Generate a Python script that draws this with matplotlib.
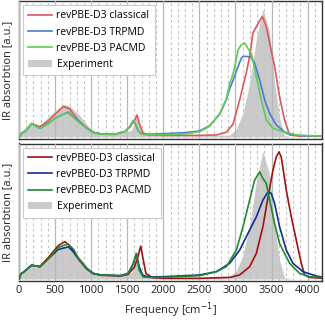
import matplotlib
matplotlib.use("Agg")
import matplotlib.pyplot as plt
from matplotlib.ticker import MultipleLocator

plt.rcParams['font.family'] = ['Open Sans', 'DejaVu Sans']
plt.rcParams['font.size'] = 8

# ---------------- data ----------------
exp_f = [0, 60, 175, 290, 429, 613, 706, 844, 983, 1075, 1352, 1560, 1640, 1698, 1790,
         2000, 2500, 2920, 3013, 3105, 3197, 3290, 3381, 3474, 3543, 3612, 3681, 3800, 4200]
exp_v = [0.0, 0.05, 0.095, 0.085, 0.16, 0.245, 0.23, 0.16, 0.065, 0.03, 0.02, 0.05, 0.17, 0.045, 0.015,
         0.01, 0.01, 0.015, 0.06, 0.18, 0.40, 0.73, 0.955, 0.78, 0.41, 0.14, 0.01, 0.0, 0.0]

# top panel: revPBE-D3
pbe_cl_f = [0, 40, 100, 175, 290, 406, 500, 614, 700, 821, 937, 1029, 1136, 1330, 1467, 1540, 1600,
            1635, 1675, 1720, 1800, 2000, 2500, 2736, 2874, 2966, 3059, 3151, 3197, 3243, 3290, 3373,
            3428, 3474, 3543, 3612, 3681, 3751, 3850, 4200]
pbe_cl_v = [0.0, 0.03, 0.05, 0.10, 0.077, 0.12, 0.17, 0.226, 0.21, 0.125, 0.068, 0.035, 0.022, 0.02,
            0.04, 0.08, 0.12, 0.164, 0.09, 0.03, 0.015, 0.012, 0.012, 0.015, 0.035, 0.095, 0.276, 0.48,
            0.60, 0.774, 0.823, 0.898, 0.823, 0.70, 0.525, 0.30, 0.127, 0.015, 0.008, 0.005]

pbe_tr_f = [0, 40, 100, 175, 290, 406, 500, 614, 683, 821, 937, 1029, 1136, 1330, 1467, 1536, 1582,
            1610, 1652, 1700, 1800, 2000, 2300, 2505, 2644, 2782, 2874, 2920, 2966, 3036, 3082, 3105,
            3160, 3220, 3266, 3336, 3405, 3474, 3566, 3705, 3889, 4200]
pbe_tr_v = [0.0, 0.028, 0.05, 0.10, 0.064, 0.10, 0.14, 0.17, 0.185, 0.12, 0.066, 0.035, 0.022, 0.02,
            0.04, 0.075, 0.12, 0.10, 0.045, 0.022, 0.02, 0.025, 0.032, 0.045, 0.085, 0.17, 0.28, 0.36,
            0.42, 0.524, 0.587, 0.60, 0.60, 0.594, 0.55, 0.425, 0.276, 0.176, 0.09, 0.027, 0.01, 0.005]

pbe_pa_f = [0, 40, 100, 175, 290, 406, 500, 614, 683, 821, 937, 1029, 1136, 1330, 1467, 1536, 1582,
            1615, 1652, 1698, 1800, 2000, 2274, 2505, 2644, 2782, 2874, 2920, 2950, 2990, 3036, 3082,
            3128, 3174, 3220, 3290, 3359, 3428, 3520, 3658, 3843, 4200]
pbe_pa_v = [0.0, 0.028, 0.05, 0.10, 0.064, 0.10, 0.14, 0.17, 0.18, 0.114, 0.064, 0.032, 0.02, 0.02,
            0.04, 0.077, 0.125, 0.10, 0.05, 0.02, 0.015, 0.018, 0.022, 0.04, 0.08, 0.174, 0.28, 0.40,
            0.44, 0.52, 0.65, 0.687, 0.70, 0.66, 0.624, 0.45, 0.276, 0.127, 0.065, 0.04, 0.015, 0.005]

# bottom panel: revPBE0-D3
pbe0_cl_f = [0, 30, 60, 175, 291, 406, 545, 637, 700, 821, 937, 1029, 1136, 1411, 1513, 1600, 1650,
             1688, 1720, 1760, 1850, 2000, 2500, 2920, 3059, 3197, 3290, 3381, 3451, 3520, 3566, 3604,
             3635, 3705, 3774, 3843, 3913, 3958, 4028, 4200]
pbe0_cl_v = [0.0, 0.04, 0.05, 0.10, 0.095, 0.16, 0.25, 0.279, 0.25, 0.15, 0.075, 0.04, 0.028, 0.022,
             0.035, 0.09, 0.17, 0.246, 0.15, 0.04, 0.01, 0.005, 0.005, 0.012, 0.03, 0.092, 0.192, 0.391,
             0.61, 0.813, 0.913, 0.95, 0.913, 0.664, 0.465, 0.291, 0.117, 0.03, 0.012, 0.005]

pbe0_tr_f = [0, 30, 60, 175, 291, 406, 545, 683, 760, 821, 937, 1029, 1136, 1411, 1513, 1580, 1628,
             1665, 1720, 1800, 2000, 2505, 2736, 2920, 3059, 3197, 3290, 3381, 3451, 3497, 3543, 3612,
             3705, 3797, 3935, 4120, 4200]
pbe0_tr_v = [0.0, 0.04, 0.05, 0.104, 0.09, 0.15, 0.22, 0.241, 0.2, 0.155, 0.08, 0.042, 0.03, 0.025,
             0.042, 0.11, 0.19, 0.09, 0.025, 0.015, 0.017, 0.03, 0.055, 0.117, 0.216, 0.366, 0.465, 0.59,
             0.652, 0.64, 0.565, 0.391, 0.216, 0.117, 0.055, 0.022, 0.015]

pbe0_pa_f = [0, 30, 60, 175, 291, 406, 545, 637, 683, 760, 821, 937, 1029, 1136, 1411, 1513, 1580,
             1628, 1665, 1720, 1800, 2000, 2505, 2736, 2874, 3013, 3105, 3197, 3266, 3336, 3381, 3428,
             3474, 3543, 3612, 3658, 3751, 3889, 4028, 4200]
pbe0_pa_v = [0.0, 0.04, 0.05, 0.104, 0.09, 0.15, 0.235, 0.254, 0.261, 0.22, 0.155, 0.08, 0.042, 0.03,
             0.025, 0.042, 0.11, 0.191, 0.067, 0.015, 0.012, 0.012, 0.025, 0.055, 0.092, 0.216, 0.391,
             0.59, 0.739, 0.801, 0.751, 0.714, 0.59, 0.416, 0.266, 0.216, 0.117, 0.042, 0.017, 0.01]

top_labels = ["revPBE-D3 classical", "revPBE-D3 TRPMD", "revPBE-D3 PACMD"]
bot_labels = ["revPBE0-D3 classical", "revPBE0-D3 TRPMD", "revPBE0-D3 PACMD"]
exp_label = "Experiment"
xticks = [0, 500, 1000, 1500, 2000, 2500, 3000, 3500, 4000]

top_colors = ["#e05858", "#4a7bd6", "#5ccc52"]
bot_colors = ["#a31010", "#102f96", "#1f8a2e"]

# ---------------- figure ----------------
fig = plt.figure(figsize=(3.25, 3.25), dpi=100)
ax1 = fig.add_axes([19/325, 1 - 139/325, 303/325, 138/325])
ax2 = fig.add_axes([19/325, 1 - 281/325, 303/325, 137.5/325])

panels = [
    (ax1, [(pbe_cl_f, pbe_cl_v), (pbe_tr_f, pbe_tr_v), (pbe_pa_f, pbe_pa_v)], top_labels, top_colors),
    (ax2, [(pbe0_cl_f, pbe0_cl_v), (pbe0_tr_f, pbe0_tr_v), (pbe0_pa_f, pbe0_pa_v)], bot_labels, bot_colors),
]

for ax, series, labels, colors in panels:
    fill = ax.fill_between(exp_f, 0, exp_v, color="#a0a0a0", alpha=0.55, lw=0, label=exp_label, zorder=1)
    handles = []
    for (f, v), lab, c in zip(series, labels, colors):
        ln, = ax.plot(f, v, color=c, lw=1.2, label=lab, zorder=3)
        handles.append(ln)
    handles.append(fill)
    ax.set_xlim(0, 4200)
    ax.set_ylim(-0.015, 1.013)
    ax.xaxis.set_major_locator(MultipleLocator(500))
    ax.xaxis.set_minor_locator(MultipleLocator(100))
    ax.grid(which="major", axis="x", color="#b8b8b8", lw=0.9, ls="-", zorder=2)
    ax.grid(which="minor", axis="x", color="#c4c4c4", lw=0.8, ls=(0, (2.5, 2.5)), zorder=2)
    ax.set_axisbelow(False)
    ax.set_yticks([])
    ax.tick_params(axis="x", which="both", length=0, pad=3, labelsize=8, colors="#222222")
    ax.set_ylabel("IR absorbtion [a.u.]", fontsize=8, labelpad=4, color="#222222")
    for s in ax.spines.values():
        s.set_color("#333333")
        s.set_linewidth(1.0)
    leg = ax.legend(handles=handles, loc="upper left", fontsize=7.5, frameon=True, fancybox=False,
                    edgecolor="#cccccc", framealpha=1.0, handlelength=2.3, handletextpad=0.4,
                    borderaxespad=0.4, labelspacing=0.5, borderpad=0.5)
    leg.get_frame().set_linewidth(0.8)
    leg.set_zorder(5)

ax1.set_xticklabels([])
ax2.set_xticks(xticks)
ax2.set_xticklabels([str(t) for t in xticks])
ax2.set_xlabel("Frequency [cm$^{-1}$]", fontsize=8, labelpad=3, color="#222222")

fig.savefig("out.png", dpi=100)
